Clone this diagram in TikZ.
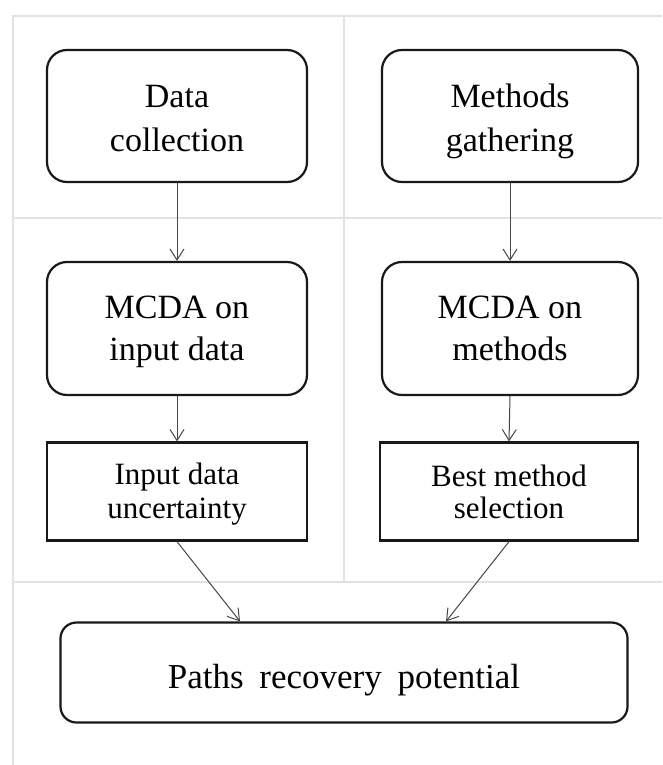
\documentclass[tikz,border=0pt]{standalone}
\usepackage{fontspec}
\setmainfont{Liberation Serif}
\usetikzlibrary{arrows.meta}
\definecolor{gridgray}{RGB}{226,226,226}
\definecolor{boxline}{RGB}{25,25,25}
\definecolor{arrowcol}{RGB}{70,70,70}
\newcommand\StrTop{\rule[-9pt]{0pt}{44pt}}
\newcommand\StrMid{\rule[-10.5pt]{0pt}{42pt}}
\newcommand\StrSmall{\rule[-5.5pt]{0pt}{32pt}}
\newcommand\StrBot{\rule[-9pt]{0pt}{49pt}}
\tikzset{
  gridline/.style={draw=gridgray,line width=2pt},
  roundbox/.style={draw=boxline,line width=2.2pt,rounded corners=20pt,inner sep=0pt,align=center},
  topfont/.style={font=\fontsize{34}{44}\selectfont},
  midfont/.style={font=\fontsize{34}{42}\selectfont},
  plainbox/.style={draw=boxline,line width=2.2pt,inner sep=0pt,align=center,
    font=\fontsize{31}{32}\selectfont},
  finalbox/.style={draw=boxline,line width=2.2pt,rounded corners=16pt,inner sep=0pt,align=center,
    font=\fontsize{35}{49}\selectfont},
  flow/.style={draw=arrowcol,line width=1pt,-{Straight Barb[length=11pt,width=14pt,line width=1pt]}}
}
\begin{document}
\begin{tikzpicture}[x=1pt,y=-1pt]
\useasboundingbox[fill=white] (0,0) rectangle (662,765);
% background grid
\draw[gridline] (13,765) -- (13,16) -- (662,16);
\draw[gridline] (13,218) -- (662,218);
\draw[gridline] (13,582) -- (662,582);
\draw[gridline] (344,16) -- (344,582);
% nodes
\node[roundbox,topfont,minimum width=260pt,minimum height=132pt] (data) at (177,116) {\StrTop Data\\\StrTop collection};
\node[roundbox,topfont,minimum width=256pt,minimum height=132pt] (meth) at (510,116) {\StrTop Methods\\\StrTop gathering};
\node[roundbox,midfont,minimum width=260pt,minimum height=133pt] (mcdai) at (177,328.5) {\StrMid MCDA on\\\StrMid input data};
\node[roundbox,midfont,minimum width=256pt,minimum height=133pt] (mcdam) at (510,328.5) {\StrMid MCDA on\\\StrMid methods};
\node[plainbox,minimum width=260pt,minimum height=98pt] (unc) at (177,491.5) {\StrSmall Input data\\\StrSmall uncertainty};
\node[plainbox,minimum width=258pt,minimum height=98pt] (best) at (509,491.5) {\StrSmall Best method\\\StrSmall selection};
\node[finalbox,minimum width=567pt,minimum height=100pt] (paths) at (344,672.5) {\StrBot Paths\hspace{0.45em}recovery\hspace{0.45em}potential};
% connectors
\draw[flow] (data.south) -- (mcdai.north);
\draw[flow] (meth.south) -- (mcdam.north);
\draw[flow] (mcdai.south) -- (unc.north);
\draw[flow] (mcdam.south) -- (best.north);
\draw[flow] (unc.south) -- ([xshift=-104pt]paths.north);
\draw[flow] (best.south) -- ([xshift=102pt]paths.north);
\end{tikzpicture}
\end{document}
